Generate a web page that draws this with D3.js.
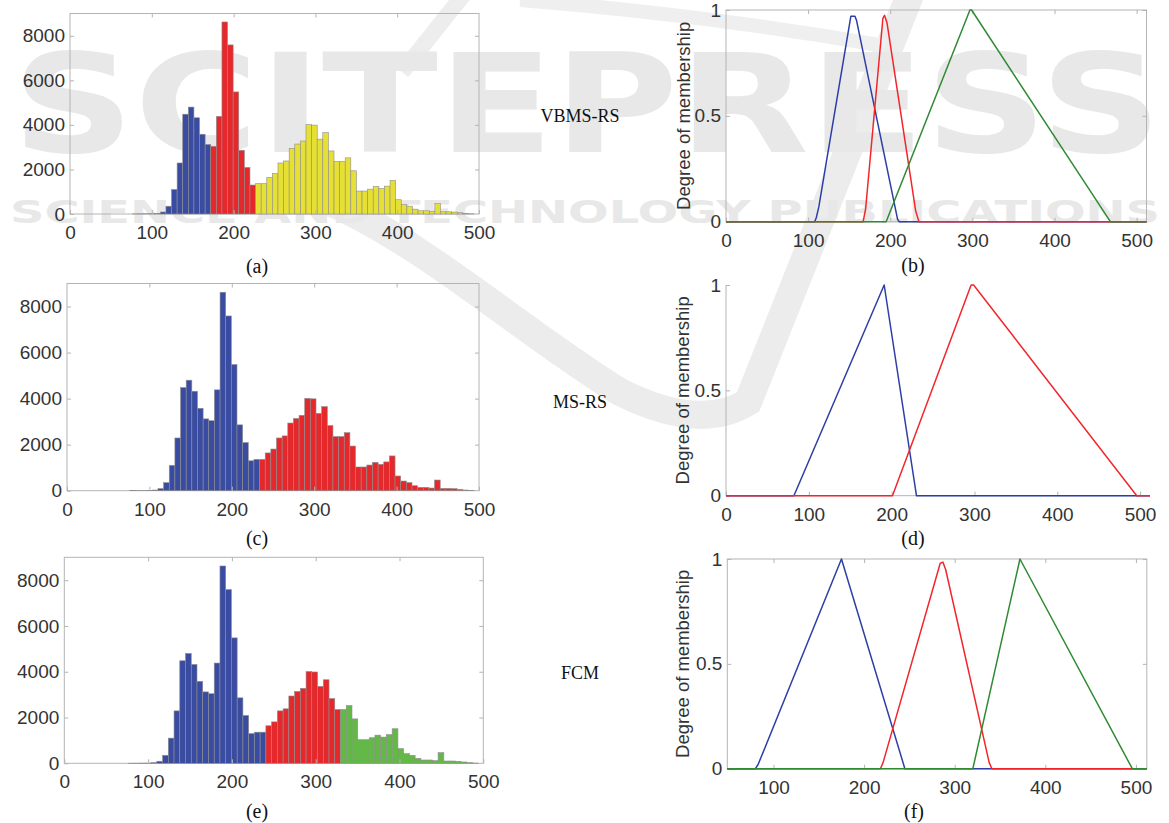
<!DOCTYPE html>
<html>
<head>
<meta charset="utf-8">
<script src="https://cdn.jsdelivr.net/npm/d3@7"></script>
<style>
  body { margin: 0; background: #fff; }
  svg { display: block; }
</style>
</head>
<body>
<svg id="chart" width="1169" height="823"></svg>
<script>
// ---- data ----
// histogram of intensities, equal-width bins
const binStart = 76.15;
const binWidth = 6.85;
const counts = [4, 6, 8, 10, 30, 90, 350, 1100, 2290, 4480, 4800, 4320, 3580, 3120, 3040,
  4380, 8620, 7590, 5480, 2860, 2090, 1300, 1360, 1360, 1640, 1810, 2290, 2380, 2940, 3140,
  3275, 4010, 3990, 3360, 3650, 2830, 2350, 2350, 2520, 1940, 1030, 1030, 1115, 1230, 1145,
  1250, 1510, 640, 420, 350, 217, 145, 145, 116, 464, 100, 100, 87, 58, 30, 10];

const histTicksX = [0, 100, 200, 300, 400, 500];
const histTicksY = [0, 2000, 4000, 6000, 8000];
const memberTicksY = [0, 0.5, 1];

// bin index where each new cluster starts
const vbmsCuts = [14, 22];
const msCuts = [23];
const fcmCuts = [24, 37];

const methodNames = ["VBMS-RS", "MS-RS", "FCM"];
const panelLetters = ["(a)", "(b)", "(c)", "(d)", "(e)", "(f)"];

// membership functions [grey level, degree]
const vbmsBlue = [[0, 0], [108, 0], [110, 0.02], [113, 0.07], [152, 0.97], [157, 0.97], [159, 0.95], [209, 0.01], [211, 0], [512, 0]];
const vbmsRed = [[0, 0], [167, 0], [170, 0.06], [191, 0.96], [193, 0.975], [196, 0.94], [231, 0.05], [235, 0], [512, 0]];
const vbmsGreen = [[0, 0], [195, 0], [297, 1], [299, 1], [468, 0], [512, 0]];

const msBlue = [[0, 0], [82, 0], [191, 1], [230, 0], [512, 0]];
const msRed = [[0, 0], [201, 0], [296, 1], [299, 1], [496, 0], [512, 0]];

const fcmBlue = [[49, 0], [80, 0], [83, 0.02], [175, 1], [245, 0], [512, 0]];
const fcmRed = [[49, 0], [218, 0], [221, 0.03], [284, 0.98], [287, 0.985], [290, 0.95], [338, 0.03], [341, 0], [512, 0]];
const fcmGreen = [[49, 0], [320, 0], [372, 1], [496, 0], [512, 0]];

// ---- styles ----
const barBlue = "#3a4ca2", barRed = "#e5282b", barYellow = "#e6e034", barGreen = "#63b848";
const lineBlue = "#2d3fa6", lineRed = "#f2262a", lineGreen = "#2f8a33";
const axisGrey = "#b4b4b4", labelInk = "#333333";
const sans = "'Liberation Sans', Arial, Helvetica, sans-serif";
const serif = "'Liberation Serif', 'Times New Roman', serif";

const svg = d3.select("#chart");

// ---- watermark ----
const wm = svg.append("g").attr("class", "watermark");
wm.append("path")
  .attr("d", "M 325 200 C 420 240, 520 330, 620 392 Q 700 432, 748 402 L 912 -10")
  .attr("fill", "none").attr("stroke", "#ececec").attr("stroke-width", 28);
wm.append("path")
  .attr("d", "M 402 72 L 464 -6")
  .attr("fill", "none").attr("stroke", "#ededed").attr("stroke-width", 16);
wm.append("path")
  .attr("d", "M 520 0 Q 700 14 885 46")
  .attr("fill", "none").attr("stroke", "#efefef").attr("stroke-width", 14);
wm.append("text")
  .attr("x", 12).attr("y", 152)
  .attr("textLength", 1150).attr("lengthAdjust", "spacingAndGlyphs")
  .style("font", "bold 137px 'DejaVu Sans', sans-serif")
  .attr("fill", "#e8e8e8")
  .text("SCITEPRESS");
wm.append("text")
  .attr("x", 10).attr("y", 223)
  .attr("textLength", 1150).attr("lengthAdjust", "spacingAndGlyphs")
  .style("font", "bold 32px 'DejaVu Sans', sans-serif")
  .attr("fill", "#e8e8e8")
  .text("SCIENCE AND TECHNOLOGY PUBLICATIONS");

// ---- helpers ----
function styleAxis(sel, showText) {
  sel.attr("color", axisGrey)
    .attr("font-family", sans)
    .attr("font-size", 19);
  sel.select(".domain").remove();
  sel.selectAll("text").attr("fill", showText ? labelInk : "none");
}

function histPanel(p) {
  const g = svg.append("g");
  const x = d3.scaleLinear().domain([0, 500]).range([p.x0, p.x1]);
  const y = d3.scaleLinear().domain([0, 9000]).range([p.yBottom, p.yTop]);

  g.append("rect")
    .attr("x", p.x0).attr("y", p.yTop)
    .attr("width", p.x1 - p.x0).attr("height", p.yBottom - p.yTop)
    .attr("fill", "none").attr("stroke", axisGrey);

  const bins = counts.map((c, i) => ({
    lo: binStart + i * binWidth,
    hi: binStart + (i + 1) * binWidth,
    c,
    k: p.cuts.filter(cut => i >= cut).length
  }));

  g.append("g").selectAll("rect")
    .data(bins)
    .enter()
    .append("rect")
    .attr("x", d => x(d.lo))
    .attr("width", d => x(d.hi) - x(d.lo))
    .attr("y", d => y(d.c))
    .attr("height", d => y(0) - y(d.c))
    .attr("fill", d => p.colors[d.k])
    .attr("stroke", "#8e8e8e")
    .attr("stroke-width", 0.6);

  g.append("g").attr("transform", `translate(0,${p.yBottom})`)
    .call(d3.axisBottom(x).tickValues(histTicksX).tickSize(-4).tickPadding(11.5))
    .call(s => styleAxis(s, true));
  g.append("g").attr("transform", `translate(${p.x0},0)`)
    .call(d3.axisLeft(y).tickValues(histTicksY).tickSize(-4).tickPadding(5).tickFormat(d => String(d)))
    .call(s => styleAxis(s, true));
  g.append("g").attr("transform", `translate(0,${p.yTop})`)
    .call(d3.axisTop(x).tickValues(histTicksX.slice(1, -1)).tickSize(-4).tickFormat(() => ""))
    .call(s => styleAxis(s, false));
  g.append("g").attr("transform", `translate(${p.x1},0)`)
    .call(d3.axisRight(y).tickValues(histTicksY.slice(1)).tickSize(-4).tickFormat(() => ""))
    .call(s => styleAxis(s, false));

  g.append("text")
    .attr("x", p.labelX).attr("y", p.labelY)
    .attr("text-anchor", "middle")
    .style("font", `20px ${serif}`)
    .attr("fill", "#111")
    .text(p.letter);
}

function memberPanel(p) {
  const g = svg.append("g");
  const x = d3.scaleLinear().domain(p.domain).range([p.x0, p.x1]);
  const y = d3.scaleLinear().domain([0, 1]).range([p.yBottom, p.yTop]);

  if (p.boxed) {
    g.append("rect")
      .attr("x", p.x0).attr("y", p.yTop)
      .attr("width", p.x1 - p.x0).attr("height", p.yBottom - p.yTop)
      .attr("fill", "none").attr("stroke", axisGrey);
  } else {
    g.append("line").attr("x1", p.x0).attr("x2", p.x0)
      .attr("y1", p.yTop).attr("y2", p.yBottom).attr("stroke", axisGrey);
    g.append("line").attr("x1", p.x0).attr("x2", p.x1)
      .attr("y1", p.yBottom).attr("y2", p.yBottom).attr("stroke", axisGrey);
  }

  g.append("g").attr("transform", `translate(0,${p.yBottom})`)
    .call(d3.axisBottom(x).tickValues(p.xTicks).tickSize(-4).tickPadding(11.5))
    .call(s => styleAxis(s, true));
  g.append("g").attr("transform", `translate(${p.x0},0)`)
    .call(d3.axisLeft(y).tickValues(memberTicksY).tickSize(-4).tickPadding(5).tickFormat(d => String(d)))
    .call(s => styleAxis(s, true));
  if (p.boxed) {
    g.append("g").attr("transform", `translate(0,${p.yTop})`)
      .call(d3.axisTop(x).tickValues(p.xTicks.filter(v => v > p.domain[0])).tickSize(-4).tickFormat(() => ""))
      .call(s => styleAxis(s, false));
    g.append("g").attr("transform", `translate(${p.x1},0)`)
      .call(d3.axisRight(y).tickValues([0.5, 1]).tickSize(-4).tickFormat(() => ""))
      .call(s => styleAxis(s, false));
  }

  const line = d3.line().x(d => x(d[0])).y(d => y(d[1]));
  p.curves.forEach(c => {
    g.append("path")
      .datum(c.pts)
      .attr("d", line)
      .attr("fill", "none")
      .attr("stroke", c.color)
      .attr("stroke-width", 1.5)
      .attr("stroke-linejoin", "round");
  });

  g.append("text")
    .attr("transform", `translate(${p.titleX},${(p.yTop + p.yBottom) / 2}) rotate(-90)`)
    .attr("text-anchor", "middle")
    .attr("dominant-baseline", "central")
    .style("font", `18.5px ${sans}`)
    .attr("fill", labelInk)
    .text("Degree of membership");

  g.append("text")
    .attr("x", p.labelX).attr("y", p.labelY)
    .attr("text-anchor", "middle")
    .style("font", `20px ${serif}`)
    .attr("fill", "#111")
    .text(p.letter);
}

// ---- panels ----
histPanel({ x0: 70, x1: 479, yTop: 13.5, yBottom: 214, cuts: vbmsCuts,
  colors: [barBlue, barRed, barYellow], letter: panelLetters[0], labelX: 257, labelY: 273 });
histPanel({ x0: 67, x1: 479, yTop: 283.5, yBottom: 490.7, cuts: msCuts,
  colors: [barBlue, barRed], letter: panelLetters[2], labelX: 257, labelY: 545 });
histPanel({ x0: 64.3, x1: 483.3, yTop: 557.3, yBottom: 763.3, cuts: fcmCuts,
  colors: [barBlue, barRed, barGreen], letter: panelLetters[4], labelX: 257, labelY: 818 });

memberPanel({ x0: 726, x1: 1146.5, yTop: 10, yBottom: 221.7, domain: [0, 512],
  xTicks: histTicksX, boxed: true, titleX: 683, letter: panelLetters[1], labelX: 913, labelY: 272,
  curves: [{ pts: vbmsBlue, color: lineBlue }, { pts: vbmsRed, color: lineRed }, { pts: vbmsGreen, color: lineGreen }] });
memberPanel({ x0: 726, x1: 1150, yTop: 285, yBottom: 495.7, domain: [0, 512],
  xTicks: histTicksX, boxed: false, titleX: 682, letter: panelLetters[3], labelX: 913, labelY: 545,
  curves: [{ pts: msBlue, color: lineBlue }, { pts: msRed, color: lineRed }] });
memberPanel({ x0: 727.3, x1: 1146.8, yTop: 559, yBottom: 768.7, domain: [49, 512],
  xTicks: histTicksX.slice(1), boxed: true, titleX: 682, letter: panelLetters[5], labelX: 914, labelY: 818,
  curves: [{ pts: fcmBlue, color: lineBlue }, { pts: fcmRed, color: lineRed }, { pts: fcmGreen, color: lineGreen }] });

// method names between the columns
const methodY = [116, 402, 673];
svg.append("g").selectAll("text")
  .data(methodNames)
  .enter()
  .append("text")
  .attr("x", 580)
  .attr("y", (d, i) => methodY[i] + 6)
  .attr("text-anchor", "middle")
  .style("font", `18px ${serif}`)
  .attr("fill", "#111")
  .text(d => d);
</script>
</body>
</html>
